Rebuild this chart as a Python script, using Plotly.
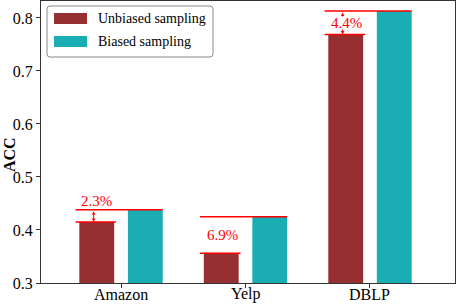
import plotly.graph_objects as go

# ---- data ----
datasets = ["Amazon", "Yelp", "DBLP"]
unbiased = [0.415, 0.356, 0.769]
biased = [0.438, 0.425, 0.813]
series_names = ["Unbiased sampling", "Biased sampling"]
y_ticks = [0.3, 0.4, 0.5, 0.6, 0.7, 0.8]
y_title = "ACC"
label_pos = ["above", "middle", "middle"]
show_arrow = [True, False, True]

# ---- style ----
RED_BAR = "#952F31"
TEAL = "#1AADB3"
ANN = "#FF0000"
AXIS = "#333333"
FONT = "Times New Roman, Liberation Serif, serif"

W, H = 457, 304
ML, MR, MT, MB = 41, 2, 1, 21
PW, PH = W - ML - MR, H - MT - MB

BAR_W = 0.28
OFF = 0.195


def px_x(x):
    return (x - ML) / PW


def px_y(y):
    return 1 - (y - MT) / PH


fig = go.Figure()
fig.add_trace(go.Bar(x=datasets, y=unbiased, name=series_names[0], marker_color=RED_BAR,
                     marker_line_width=0, width=BAR_W, offset=-OFF - BAR_W / 2, showlegend=False))
fig.add_trace(go.Bar(x=datasets, y=biased, name=series_names[1], marker_color=TEAL,
                     marker_line_width=0, width=BAR_W, offset=OFF - BAR_W / 2, showlegend=False))

shapes = []
annotations = []
for i, cat in enumerate(datasets):
    xu = i - OFF
    xb = i + OFF
    u, b = unbiased[i], biased[i]
    txt = f"{(b - u) * 100:.1f}%"
    if show_arrow[i]:
        annotations.append(dict(x=xu - 0.025, y=u, ax=xu - 0.025, ay=b, xref="x", yref="y",
                                axref="x", ayref="y", text="", showarrow=True,
                                arrowside="end+start", arrowhead=2, arrowsize=0.7,
                                arrowwidth=1, arrowcolor=ANN, standoff=0, startstandoff=0))
    if label_pos[i] == "above":
        annotations.append(dict(x=xu, y=b, xref="x", yref="y", text=txt, showarrow=False,
                                yanchor="middle", yshift=9,
                                font=dict(family=FONT, size=15, color=ANN)))
    else:
        annotations.append(dict(x=xu + 0.01, y=(u + b) / 2, xref="x", yref="y", text=txt,
                                showarrow=False, yanchor="middle", bgcolor="white", borderpad=0,
                                height=12, valign="middle",
                                font=dict(family=FONT, size=15, color=ANN)))
    # reference lines
    shapes.append(dict(type="line", xref="x", yref="y", x0=xu - 0.17, x1=xb + 0.14, y0=b, y1=b,
                       line=dict(color=ANN, width=1.5)))
    shapes.append(dict(type="line", xref="x", yref="y", x0=xu - 0.17, x1=xu + 0.155, y0=u, y1=u,
                       line=dict(color=ANN, width=1.5)))
    # category label (placed as text just under the axis)
    annotations.append(dict(x=cat, y=0, xref="x", yref="paper", text=cat, showarrow=False,
                            yanchor="middle", yshift=-11,
                            font=dict(family=FONT, size=16, color="black")))

# y-axis title
annotations.append(dict(x=px_x(9), y=px_y(155), xref="paper", yref="paper",
                        text=f"<b>{y_title}</b>", textangle=-90, showarrow=False,
                        xanchor="center", yanchor="middle",
                        font=dict(family=FONT, size=16, color="black")))

# ---- legend drawn by hand (wide swatches like the reference) ----
xl, xr, yt, yb = px_x(47), px_x(213), px_y(6), px_y(57)
rx, ry = 3 / PW, 3 / PH
path = (f"M {xl + rx},{yt} L {xr - rx},{yt} Q {xr},{yt} {xr},{yt - ry} "
        f"L {xr},{yb + ry} Q {xr},{yb} {xr - rx},{yb} L {xl + rx},{yb} "
        f"Q {xl},{yb} {xl},{yb + ry} L {xl},{yt - ry} Q {xl},{yt} {xl + rx},{yt} Z")
shapes.append(dict(type="path", xref="paper", yref="paper", path=path,
                   fillcolor="white", line=dict(color="#8A8A8A", width=1)))
for k, (nm, col) in enumerate(zip(series_names, [RED_BAR, TEAL])):
    cy = 18.5 + 23 * k
    shapes.append(dict(type="rect", xref="paper", yref="paper", x0=px_x(54), x1=px_x(87),
                       y0=px_y(cy - 5.5), y1=px_y(cy + 5.5), fillcolor=col, line_width=0))
    annotations.append(dict(x=px_x(96), y=px_y(cy), xref="paper", yref="paper", text=nm,
                            showarrow=False, xanchor="left", yanchor="middle",
                            font=dict(family=FONT, size=14, color="black")))

fig.update_layout(
    width=W, height=H,
    margin=dict(l=ML, r=MR, t=MT, b=MB),
    paper_bgcolor="white", plot_bgcolor="white",
    barmode="overlay",
    font=dict(family=FONT, size=16, color="black"),
    shapes=shapes, annotations=annotations,
    showlegend=False,
)
fig.update_xaxes(range=[-0.643, 2.683], showline=True, linecolor=AXIS, linewidth=1, mirror=True,
                 ticks="outside", ticklen=4, tickcolor=AXIS, showgrid=False,
                 showticklabels=False)
fig.update_yaxes(range=[0.3, 0.832], tickvals=y_ticks, ticktext=[f"{v:.1f}" for v in y_ticks],
                 showline=True, linecolor=AXIS, linewidth=1, mirror=True,
                 ticks="outside", ticklen=4, tickcolor=AXIS, showgrid=False, zeroline=False,
                 tickfont=dict(family=FONT, size=16, color="black"))

fig.write_html("out.html", config={"displayModeBar": False},
               post_script="document.body.style.margin='0';document.body.style.padding='0';"
                           "document.body.style.overflow='hidden';")
